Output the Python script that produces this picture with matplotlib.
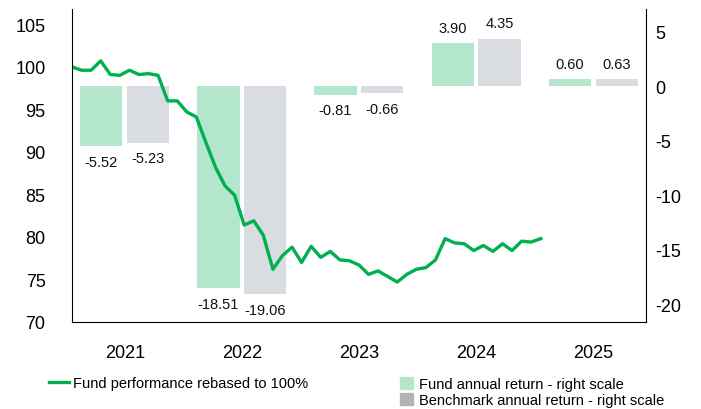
import matplotlib
matplotlib.use("Agg")
import matplotlib.pyplot as plt
from matplotlib.lines import Line2D
from matplotlib.patches import Patch
import numpy as np

plt.rcParams['font.family'] = ['Liberation Sans', 'DejaVu Sans']
plt.rcParams['axes.unicode_minus'] = False

years = ["2021", "2022", "2023", "2024", "2025"]
fund_return = [-5.52, -18.51, -0.81, 3.90, 0.60]
bench_return = [-5.23, -19.06, -0.66, 4.35, 0.63]

# monthly fund performance, rebased to 100
performance = [100.0, 99.6, 99.6, 100.7, 99.1, 99.0, 99.6, 99.1, 99.2, 99.0,
               96.0, 96.0, 94.7, 94.1, 91.1, 88.2, 86.0, 84.9, 81.4, 81.9,
               80.2, 76.2, 77.8, 78.8, 77.0, 78.9, 77.6, 78.3, 77.3, 77.2,
               76.7, 75.6, 76.0, 75.35, 74.7, 75.6, 76.2, 76.4, 77.3, 79.8,
               79.3, 79.2, 78.4, 79.0, 78.3, 79.2, 78.4, 79.5, 79.4, 79.8]

green = "#00b050"
fund_col = "#b3e6cc"
bench_col = "#d9dde1"

fig = plt.figure(figsize=(7.01, 4.10), dpi=100)
rect = [0.1027, 0.2122, 0.8188, 0.7634]

# bars on the right scale
ax = fig.add_axes(rect)
x = np.arange(len(years))
w = 0.36
b1 = ax.bar(x - 0.2, fund_return, w, color=fund_col)
b2 = ax.bar(x + 0.2, bench_return, w, color=bench_col)
for bars in (b1, b2):
    for r in bars:
        v = r.get_height()
        off = 11 if v >= 0 else -11
        ax.annotate(f"{v:.2f}", (r.get_x() + r.get_width() / 2, v),
                    xytext=(0, off), textcoords="offset points",
                    ha="center", va="center", fontsize=10.5, color="#111111")
ax.set_xlim(-0.45, 4.45)
ax.set_ylim(-21.6, 7.05)
ax.set_xticks(x)
ax.set_xticklabels(years)
ax.set_yticks([5, 0, -5, -10, -15, -20])
ax.yaxis.tick_right()
ax.tick_params(axis="x", length=0, pad=16, labelsize=13)
ax.tick_params(axis="y", length=0, pad=7, labelsize=13)
ax.spines["top"].set_visible(False)
ax.spines["left"].set_visible(False)

# line on the left scale
lax = fig.add_axes(rect, facecolor="none")
lax.plot(np.arange(len(performance)), performance, color=green, lw=2.4)
lax.set_xlim(0, 60)
lax.set_ylim(70, 106.8)
lax.set_yticks(range(70, 106, 5))
lax.set_xticks([])
lax.tick_params(axis="y", length=0, pad=19, labelsize=13)
for s in ("top", "right", "bottom"):
    lax.spines[s].set_visible(False)

fig.legend(handles=[Line2D([], [], color=green, lw=2.4)],
           labels=["Fund performance rebased to 100%"],
           loc="center left", bbox_to_anchor=(0.0699, 0.0634),
           frameon=False, fontsize=10.5, borderpad=0, borderaxespad=0,
           handlelength=1.37, handletextpad=0.3)
fig.legend(handles=[Patch(color=fund_col), Patch(color="#b3b3b3")],
           labels=["Fund annual return - right scale",
                   "Benchmark annual return - right scale"],
           loc="center left", bbox_to_anchor=(0.5706, 0.0415),
           frameon=False, fontsize=10.5, borderpad=0, borderaxespad=0,
           handlelength=0.9, handleheight=0.9, handletextpad=0.4,
           labelspacing=0.1)

fig.savefig("out.png", dpi=100)
